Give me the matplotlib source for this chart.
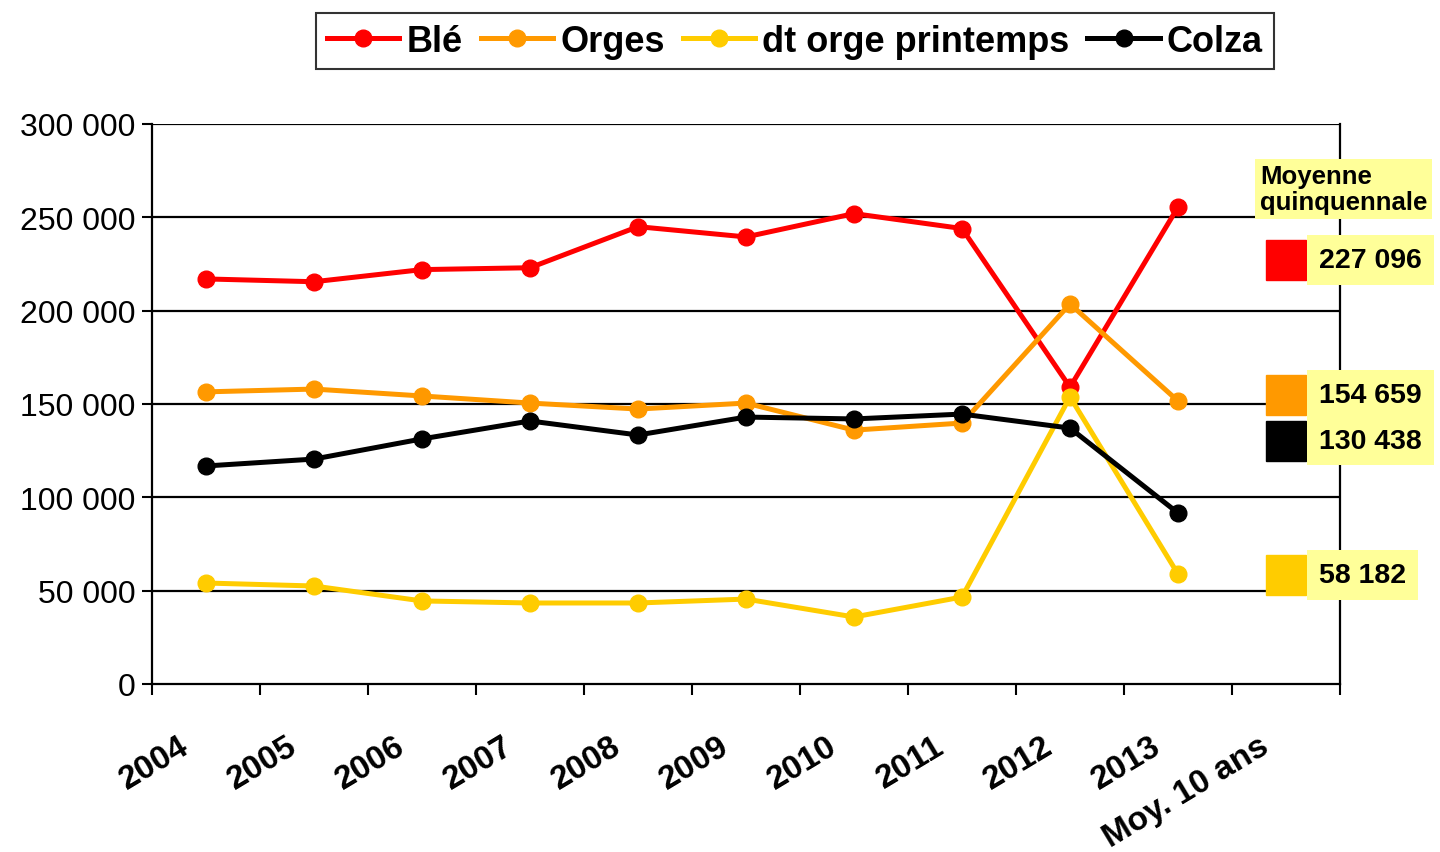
import matplotlib
matplotlib.use("Agg")
import matplotlib.pyplot as plt
import matplotlib.transforms as mtransforms
from matplotlib.ticker import FuncFormatter
import numpy as np

plt.rcParams['font.family'] = ['Liberation Sans', 'DejaVu Sans']

categories = ["2004", "2005", "2006", "2007", "2008", "2009", "2010", "2011", "2012", "2013", "Moy. 10 ans"]
years = categories[:10]
ble = [217000, 215500, 222000, 223000, 245000, 239500, 252000, 244000, 159000, 255500]
orges = [156500, 158000, 154300, 150500, 147300, 150500, 136000, 139800, 203600, 151600]
orge_printemps = [54100, 52500, 44500, 43400, 43400, 45500, 35900, 46600, 153800, 58900]
colza = [116800, 120500, 131300, 140900, 133400, 143000, 142000, 144600, 137100, 91600]

series_names = ["Blé", "Orges", "dt orge printemps", "Colza"]
series_colors = ["#FF0000", "#FF9900", "#FFCC00", "#000000"]
moyenne_5 = [227096, 154659, 58182, 130438]
moy_title = "Moyenne\nquinquennale"

def fmt(v):
    return format(int(round(v)), ",").replace(",", " ")

fig = plt.figure(figsize=(14.4, 8.53), dpi=100)
ax = fig.add_axes([152/1440, 1-685/853, (1340-152)/1440, (685-125)/853])

x = np.arange(len(years))
all_series = [ble, orges, orge_printemps, colza]
handles = []
for vals, name, col in zip(all_series, series_names, series_colors):
    h, = ax.plot(x, vals, color=col, lw=3.6, marker='o', ms=12, label=name,
                 solid_joinstyle='round', zorder=3)
    handles.append(h)

ax.set_xlim(-0.5, len(categories) - 0.5)
ax.set_ylim(0, 300000)
ax.set_yticks(np.arange(0, 300001, 50000))
ax.yaxis.set_major_formatter(FuncFormatter(lambda v, p: fmt(v)))
ax.tick_params(axis='y', direction='out', length=7, width=1.5, labelsize=23, pad=5)
for yv in np.arange(50000, 300001, 50000):
    ax.axhline(yv, color='black', lw=1.6, zorder=1)

ax.set_xticks(np.arange(-0.5, len(categories), 1.0))
ax.set_xticklabels([])
ax.tick_params(axis='x', direction='out', length=8, width=1.5)
ax.set_xticks(np.arange(len(categories)), minor=True)
ax.set_xticklabels(categories, minor=True, rotation=31, ha='right',
                   rotation_mode='anchor', fontsize=24, fontweight='bold')
ax.tick_params(axis='x', which='minor', length=0, pad=33)
off = mtransforms.ScaledTranslation(-0.28, 0, fig.dpi_scale_trans)
for lab in ax.xaxis.get_minorticklabels():
    lab.set_transform(lab.get_transform() + off)

for s in ['left', 'bottom', 'right']:
    ax.spines[s].set_linewidth(1.6)
    ax.spines[s].set_color('black')
ax.spines['top'].set_visible(False)

# Moyenne quinquennale markers and labels
moy_x = len(categories) - 1
for val, col in zip(moyenne_5, series_colors):
    ax.plot([moy_x], [val], marker='s', ms=29, color=col, mec=col, ls='none',
            zorder=4, clip_on=False)

box_style = dict(boxstyle='square,pad=0.42', fc='#FFFF99', ec='none')
for val in moyenne_5:
    ax.annotate(fmt(val), xy=(moy_x, val), xytext=(24, 0), textcoords='offset points',
                ha='left', va='center', fontsize=20.5, fontweight='bold',
                bbox=box_style, zorder=5, annotation_clip=False)

fig.text(1260/1440, 1-190/853, moy_title, ha='left', va='center', fontsize=18.5,
         fontweight='bold', linespacing=1.15,
         bbox=dict(boxstyle='square,pad=0.18', fc='#FFFF99', ec='none'))

leg = fig.legend(handles=handles, loc='center', bbox_to_anchor=(795/1440, 1-42/853),
                 ncol=4, frameon=True, fancybox=False, edgecolor='black',
                 prop=dict(weight='bold', size=26), handlelength=2.0,
                 handletextpad=0.2, columnspacing=0.5, borderpad=0.3,
                 borderaxespad=0)
leg.get_frame().set_linewidth(1.5)

fig.savefig("out.png", dpi=100)
